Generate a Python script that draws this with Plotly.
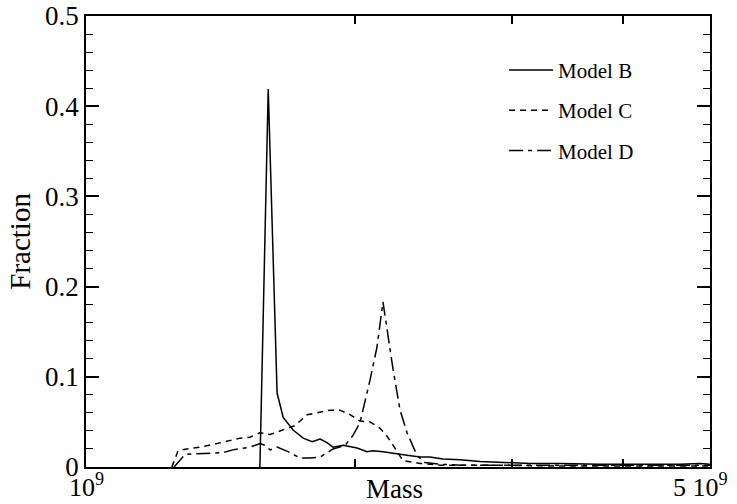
import plotly.graph_objects as go

# Mass (units of 1e9) and fraction values
mass_b = [1.566, 1.600, 1.637, 1.663, 1.706, 1.751, 1.792, 1.829, 1.862, 1.891, 1.941,
          2.012, 2.064, 2.096, 2.151, 2.208, 2.289, 2.366, 2.428, 2.511, 2.624, 2.763,
          2.909, 3.144, 3.396, 3.765, 4.174, 4.628, 4.874, 5.0]
frac_b = [0.0, 0.419, 0.082, 0.055, 0.041, 0.032, 0.028, 0.031, 0.027, 0.022, 0.024,
          0.021, 0.017, 0.018, 0.017, 0.015, 0.013, 0.011, 0.011, 0.009, 0.008, 0.006,
          0.005, 0.004, 0.004, 0.003, 0.003, 0.003, 0.004, 0.003]

mass_c = [1.248, 1.268, 1.297, 1.342, 1.388, 1.431, 1.488, 1.526, 1.566, 1.608, 1.663,
          1.715, 1.769, 1.829, 1.877, 1.925, 1.976, 2.027, 2.080, 2.135, 2.174, 2.202,
          2.265, 2.366, 2.492, 2.624, 2.909, 3.396, 4.174, 5.0]
frac_c = [0.0, 0.018, 0.020, 0.022, 0.025, 0.028, 0.032, 0.033, 0.038, 0.036, 0.041,
          0.046, 0.058, 0.061, 0.063, 0.063, 0.058, 0.051, 0.050, 0.043, 0.034, 0.026,
          0.007, 0.004, 0.002, 0.002, 0.002, 0.001, 0.001, 0.001]

mass_d = [1.255, 1.291, 1.359, 1.424, 1.461, 1.526, 1.566, 1.587, 1.608, 1.637, 1.684,
          1.737, 1.782, 1.829, 1.891, 1.951, 1.991, 2.027, 2.080, 2.118, 2.151, 2.174,
          2.208, 2.248, 2.289, 2.348, 2.397, 2.492, 2.624, 2.909, 3.396, 4.174, 5.0]
frac_d = [0.0, 0.014, 0.015, 0.016, 0.019, 0.022, 0.026, 0.024, 0.019, 0.022, 0.017,
          0.010, 0.010, 0.011, 0.020, 0.024, 0.035, 0.049, 0.096, 0.133, 0.183, 0.152,
          0.108, 0.063, 0.038, 0.013, 0.005, 0.003, 0.002, 0.002, 0.002, 0.002, 0.002]

x_tickvals = [2e9, 3e9, 4e9]
x_label_left = "10<sup>9</sup>"
x_label_right = "5 10<sup>9</sup>"
y_tickvals = [0, 0.1, 0.2, 0.3, 0.4, 0.5]
y_ticktext = ["0", "0.1", "0.2", "0.3", "0.4", "0.5"]

FONT = "Liberation Serif"

fig = go.Figure()
fig.add_trace(go.Scatter(x=[m * 1e9 for m in mass_b], y=frac_b, mode="lines",
                         name="Model B", legendgroup="b",
                         line=dict(color="black", width=1.5)))
fig.add_trace(go.Scatter(x=[m * 1e9 for m in mass_c], y=frac_c, mode="lines",
                         name="Model C", legendgroup="c",
                         line=dict(color="black", width=1.5, dash="6px,5px")))
fig.add_trace(go.Scatter(x=[m * 1e9 for m in mass_d], y=frac_d, mode="lines",
                         name="Model D", legendgroup="d",
                         line=dict(color="black", width=1.5, dash="14px,5px,4px,5px")))

fig.update_layout(
    width=737, height=504, autosize=False,
    margin=dict(l=86, r=27, t=16, b=37, autoexpand=False),
    paper_bgcolor="white", plot_bgcolor="white",
    font=dict(family=FONT, color="black", size=27),
    showlegend=True,
    legend=dict(x=0.67, y=0.925, xanchor="left", yanchor="top",
                bgcolor="rgba(0,0,0,0)", font=dict(size=21, family=FONT),
                tracegroupgap=10, itemwidth=44),
    xaxis=dict(type="log", range=[9, 9.69897], tickvals=x_tickvals,
               showticklabels=False,
               ticks="inside", ticklen=8, tickwidth=1.6, tickcolor="black",
               automargin=False,
               showline=True, linecolor="black", linewidth=1.8, mirror="ticks",
               showgrid=False, zeroline=False),
    yaxis=dict(range=[0, 0.5], tickvals=y_tickvals, ticktext=y_ticktext,
               ticks="inside", ticklen=13, tickwidth=1.6, tickcolor="black",
               automargin=False,
               minor=dict(dtick=0.02, ticks="inside", ticklen=7, tickwidth=1.3,
                          tickcolor="black", showgrid=False),
               showline=True, linecolor="black", linewidth=1.8, mirror="ticks",
               showgrid=False, zeroline=False, tickfont=dict(size=27, family=FONT)),
    annotations=[
        dict(text=x_label_left, xref="paper", yref="paper", x=0.0, y=-0.042,
             xanchor="center", yanchor="middle", showarrow=False,
             font=dict(size=26, family=FONT)),
        dict(text=x_label_right, xref="paper", yref="paper", x=0.985, y=-0.042,
             xanchor="center", yanchor="middle", showarrow=False,
             font=dict(size=26, family=FONT)),
        dict(text="Mass", xref="paper", yref="paper", x=0.495, y=-0.048,
             xanchor="center", yanchor="middle", showarrow=False,
             font=dict(size=27, family=FONT)),
        dict(text="Fraction", xref="paper", yref="paper", x=-0.107, y=0.5,
             xanchor="center", yanchor="middle", textangle=-90, showarrow=False,
             font=dict(size=29, family=FONT)),
    ],
)

fig.write_html("out.html")
